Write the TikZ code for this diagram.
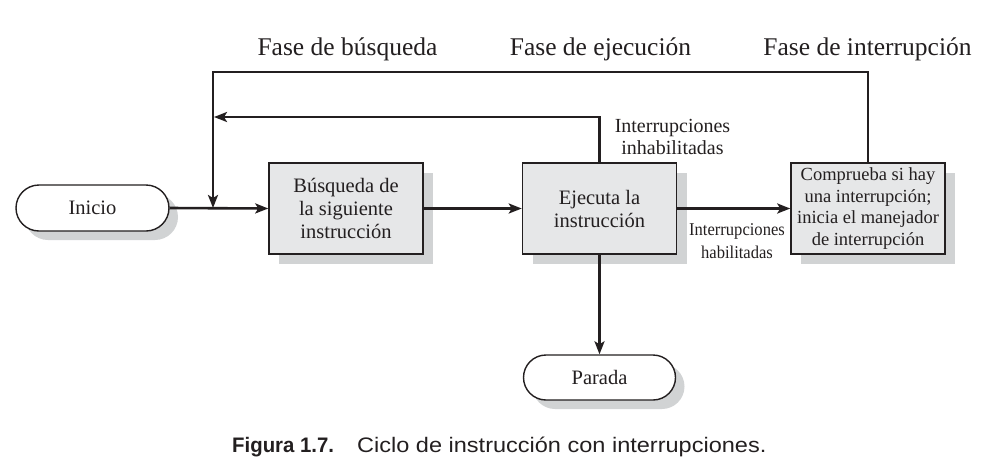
\documentclass[tikz,border=0pt]{standalone}
\usepackage{fontspec}
\setmainfont{Liberation Serif}
\newfontfamily\capfont{Liberation Sans}
\usetikzlibrary{arrows.meta,shapes.misc,shadows}
\definecolor{ink}{HTML}{231F20}
\definecolor{boxfill}{HTML}{E6E7E8}
\definecolor{shadowgray}{HTML}{D1D3D4}
\tikzset{
  sh/.style={drop shadow={shadow xshift=#1, shadow yshift=-#1, fill=shadowgray, opacity=1}},
  procbox/.style={draw=ink, line width=1.5pt, fill=boxfill, sh=10pt, rectangle,
    minimum width=154pt, minimum height=91pt, inner sep=0pt, align=center,
    font=\fontsize{20.5}{23}\selectfont, text=ink},
  pill/.style={draw=ink, line width=1.4pt, fill=white, sh=9pt, rounded rectangle,
    minimum width=153pt, minimum height=46pt, inner sep=0pt,
    font=\fontsize{20.5}{23}\selectfont, text=ink},
  conn/.style={draw=ink, line width=2.6pt, -{Stealth[length=13pt,width=10pt,inset=3pt]}},
  phase/.style={font=\fontsize{25.5}{28}\selectfont, text=ink, anchor=base, inner sep=0pt},
  lbl/.style={font=\fontsize{20}{22}\selectfont, text=ink, align=center, inner sep=0pt},
}
\begin{document}
\begin{tikzpicture}[x=1pt,y=-1pt]
\useasboundingbox (0,0) rectangle (989,467);
% nodes
\node[pill] (inicio) at (92.5,208) {Inicio};
\node[procbox] (busq) at (346,208.5) {Búsqueda de\\la siguiente\\instrucción};
\node[procbox] (ejec) at (599.5,208.5) {Ejecuta la\\instrucción};
\node[procbox, font=\fontsize{18.5}{21.7}\selectfont] (comp) at (868,208.5) {Comprueba si hay\\una interrupción;\\inicia el manejador\\de interrupción};
\node[pill, minimum width=152pt, minimum height=45pt] (parada) at (599.5,377.5) {Parada};
% phase labels
\node[phase] (f1) at (347.5,55) {Fase de búsqueda};
\node[phase] (f2) at (600.5,55) {Fase de ejecución};
\node[phase] (f3) at (867.5,55) {Fase de interrupción};
% labels
\node[lbl] (inh) at (672.5,137) {Interrupciones\\inhabilitadas};
\node[lbl, font=\fontsize{18}{23}\selectfont] (hab) at (737,241.5) {\scalebox{0.92}[1]{Interrupciones}\\\scalebox{0.92}[1]{habilitadas}};
% coordinates
\coordinate (join) at (213,208);
\coordinate (topL) at (213,72);
\coordinate (innerL) at (214,117);
% connectors
\draw[conn] (inicio.east) -- (busq.west);
\draw[conn] (busq.east) -- (ejec.west);
\draw[conn] (ejec.east) -- (comp.west);
\draw[conn] (ejec.south) -- (parada.north);
\draw[conn] (ejec.north) |- (innerL);
\draw[conn] (comp.north) |- (topL) -- (join);
% caption
\node[anchor=base west, inner sep=0pt, text=ink, font=\capfont\bfseries\fontsize{21}{24}\selectfont] (cap1) at (232,452) {\scalebox{0.97}[1]{Figura 1.7.}};
\node[anchor=base west, inner sep=0pt, text=ink, font=\capfont\fontsize{21}{24}\selectfont] (cap2) at (357,452) {\scalebox{1.12}[1]{Ciclo de instrucción con interrupciones.}};
\end{tikzpicture}
\end{document}
